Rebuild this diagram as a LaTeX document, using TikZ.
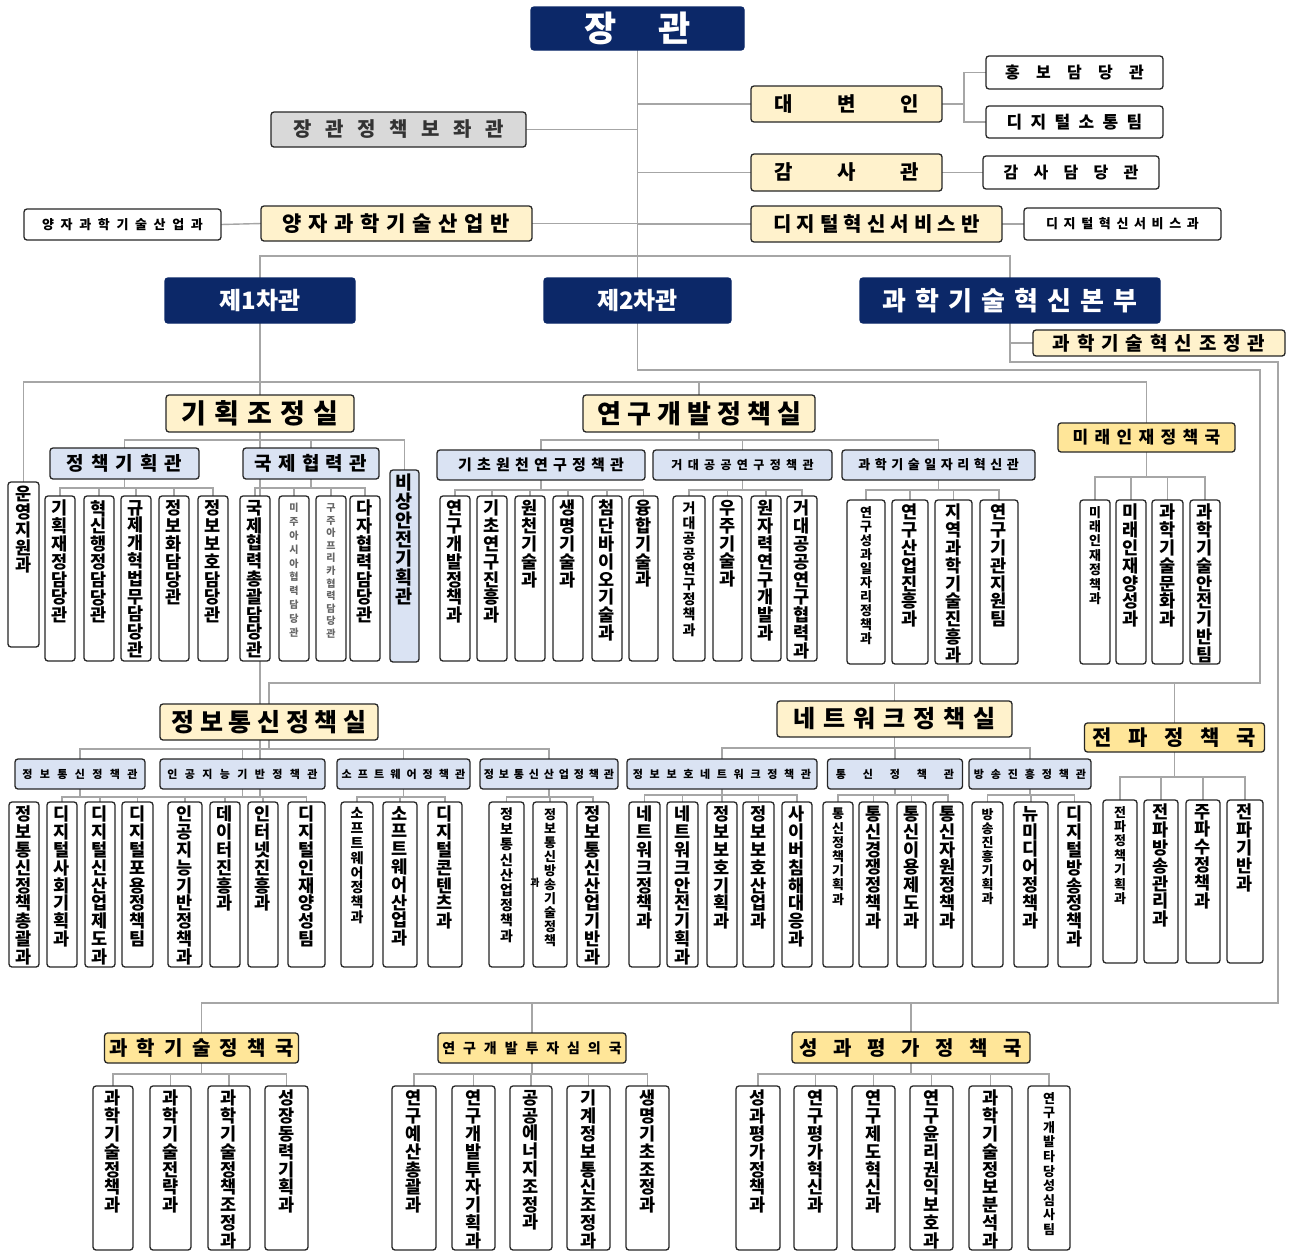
\documentclass[tikz,border=0pt]{standalone}
\usepackage{fontspec}
\setmainfont{Noto Sans CJK KR}
\definecolor{navy}{RGB}{12,40,104}
\definecolor{ylwA}{HTML}{FFF2CC}
\definecolor{ylwB}{HTML}{FFE699}
\definecolor{bluA}{HTML}{DAE3F3}
\definecolor{gryA}{HTML}{D9D9D9}
\definecolor{lineC}{HTML}{A6A6A6}
\definecolor{edgeC}{HTML}{262626}
\pgfdeclarelayer{bg}\pgfsetlayers{bg,main}
\newdimen\spw
\def\spx#1{\ifx\relax#1\else\hbox to \spw{\hss#1\hss}\expandafter\spx\fi}
\def\vsx#1{\ifx\relax#1\else\hbox to 0pt{\hss#1\hss}\expandafter\vsx\fi}
% name, style, x1,y1,x2,y2, fontsize, pitch, text
\newcommand\hbx[9]{%
 \node[#2, minimum width={(#5)-(#3)}, minimum height={(#6)-(#4)}] (#1) at ({((#3)+(#5))/2},{-((#4)+(#6))/2})
 {\fontsize{#7}{#7}\selectfont\spw=#8pt\relax\ifdim\spw=0pt #9\else\spx#9\relax\fi};}
% name, style, x1,x2,y1,y2, fontsize, pitch, text
\newcommand\vbx[9]{%
 \pgfmathsetmacro\vbh{(#6)-(#5)-2}%
 \pgfmathsetmacro\vof{11-0.45*(#7)}%
 \node[#2, minimum width={(#4)-(#3)}, minimum height={(#6)-(#5)}] (#1) at ({((#3)+(#4))/2},{-((#5)+(#6))/2})
 {\vbox to \vbh pt{\fontsize{#7}{#8}\selectfont\baselineskip=#8pt\lineskiplimit=-100pt\lineskip=0pt\relax\vskip\vof pt\vsx#9\relax\vss}};}
\newcommand\vnm[4]{\vbx{#1}{wht}{#2}{#3}{\rowT}{\rowB}{17.5}{17.8}{#4}}
\newcommand\vsm[6]{\vbx{#1}{wht}{#2}{#3}{\rowT}{\rowB}{#4}{#5}{#6}}
\newcommand\tree[3]{\foreach \ch in {#3}{\draw[conn] (#1.south) -- (#1.south |- 0,-#2) -| (\ch.north);}}
\tikzset{
 box/.style={draw=edgeC, line width=1.3pt, rounded corners=3pt, inner sep=0pt, outer sep=0pt, font=\bfseries, text=black},
 wht/.style={box, fill=white},
 ylw/.style={box, fill=ylwA},
 ylw2/.style={box, fill=ylwB},
 blu/.style={box, fill=bluA},
 gry/.style={box, fill=gryA, text=black!80},
 nvy/.style={box, fill=navy, draw=navy, text=white},
 conn/.style={draw=lineC, line width=1.4pt},
}
\begin{document}
\begin{tikzpicture}[x=1pt,y=1pt]
\useasboundingbox (0,0) rectangle (1289,-1251);
\begin{pgfonlayer}{bg}
\fill[white] (0,0) rectangle (1289,-1251);
\end{pgfonlayer}
% ---- top
\hbx{jg}{nvy}{531}{7}{744}{50}{35}{74}{장관}
\hbx{bojwa}{gry}{271}{112}{526}{147}{20}{32}{장관정책보좌관}
\hbx{dbi}{ylw}{751}{86}{942}{122}{20}{63}{대변인}
\hbx{hb}{wht}{986}{56}{1163}{89}{16}{31}{홍보담당관}
\hbx{dst}{wht}{986}{106}{1163}{138}{17}{24}{디지털소통팀}
\hbx{gsg}{ylw}{751}{154}{942}{191}{20}{63}{감사관}
\hbx{gsd}{wht}{983}{156}{1159}{189}{16}{30}{감사담당관}
\hbx{dis}{ylw}{751}{206}{1002}{242}{20}{23.5}{디지털혁신서비스반}
\hbx{disg}{wht}{1024}{208}{1221}{240}{13}{17.6}{디지털혁신서비스과}
\hbx{yjb}{ylw}{261}{206}{532}{241}{21}{26}{양자과학기술산업반}
\hbx{yjg}{wht}{24}{209}{221}{240}{13}{18.6}{양자과학기술산업과}
\hbx{v1}{nvy}{165}{278}{355}{323}{24}{0}{제1차관}
\hbx{v2}{nvy}{544}{278}{731}{323}{24}{0}{제2차관}
\hbx{hq}{nvy}{860}{278}{1160}{323}{26}{33}{과학기술혁신본부}
\hbx{jj}{ylw}{1033}{330}{1285}{356}{19}{24.4}{과학기술혁신조정관}
% ---- row 1 heads
\hbx{gj}{ylw}{166}{395}{354}{432}{27}{33}{기획조정실}
\hbx{rd}{ylw}{583}{395}{815}{432}{26}{30}{연구개발정책실}
\hbx{mr}{ylw2}{1058}{423}{1235}{452}{17}{22}{미래인재정책국}
\hbx{pp}{blu}{50}{448}{199}{479}{19}{24.5}{정책기획관}
\hbx{ic}{blu}{243}{448}{379}{479}{19}{23.7}{국제협력관}
\hbx{bw}{blu}{437}{450}{645}{480}{15}{19}{기초원천연구정책관}
\hbx{gp}{blu}{653}{450}{832}{480}{12}{16.4}{거대공공연구정책관}
\hbx{jr}{blu}{842}{450}{1035}{480}{13}{16.5}{과학기술일자리혁신관}
% ---- row 1 columns
\vbx{uy}{wht}{8}{39}{482}{647}{17.5}{17.8}{운영지원과}
\def\rowT{496}\def\rowB{661}
\vnm{a1}{45}{75}{기획재정담당관}
\vnm{a2}{84}{114}{혁신행정담당관}
\vnm{a3}{121}{151}{규제개혁법무담당관}
\vnm{a4}{159}{189}{정보화담당관}
\vnm{a5}{198}{228}{정보보호담당관}
\vnm{a6}{240}{270}{국제협력총괄담당관}
\vbx{a7}{wht,text=black!60}{279}{309}{\rowT}{\rowB}{10}{13.8}{미주아시아협력담당관}
\vbx{a8}{wht,text=black!60}{316}{346}{\rowT}{\rowB}{10}{12.6}{구주아프리카협력담당관}
\vnm{a9}{350}{380}{다자협력담당관}
\vbx{bs}{blu}{390}{419}{470}{662}{18.5}{19}{비상안전기획관}
\vnm{a10}{440}{470}{연구개발정책과}
\vnm{a11}{477}{507}{기초연구진흥과}
\vnm{a12}{515}{545}{원천기술과}
\vnm{a13}{553}{583}{생명기술과}
\vnm{a14}{592}{622}{첨단바이오기술과}
\vnm{a15}{629}{658}{융합기술과}
\vsm{a16}{673}{705}{14}{15.2}{거대공공연구정책과}
\vnm{a17}{713}{742}{우주기술과}
\vnm{a18}{751}{781}{원자력연구개발과}
\vnm{a19}{787}{817}{거대공공연구협력과}
\def\rowT{500}\def\rowB{664}
\vsm{a20}{847}{885}{13}{14}{연구성과일자리정책과}
\vnm{a21}{892}{928}{연구산업진흥과}
\vnm{a22}{935}{972}{지역과학기술진흥과}
\vnm{a23}{980}{1018}{연구기관지원팀}
\vsm{a24}{1080}{1110}{13}{14.4}{미래인재정책과}
\vnm{a25}{1116}{1146}{미래인재양성과}
\vnm{a26}{1152}{1183}{과학기술문화과}
\vnm{a27}{1190}{1220}{과학기술안전기반팀}
% ---- row 2 heads
\hbx{ict}{ylw}{160}{704}{378}{740}{25}{28.6}{정보통신정책실}
\hbx{nw}{ylw}{777}{701}{1012}{737}{24}{30}{네트워크정책실}
\hbx{jp}{ylw2}{1093}{723}{1256}{752}{21}{36}{전파정책국}
\hbx{ic1}{blu}{15}{759}{145}{789}{11}{17.5}{정보통신정책관}
\hbx{ai}{blu}{160}{759}{325}{789}{11}{17.5}{인공지능기반정책관}
\hbx{sw}{blu}{337}{759}{470}{789}{11}{16.2}{소프트웨어정책관}
\hbx{ii}{blu}{480}{759}{618}{789}{11}{15}{정보통신산업정책관}
\hbx{sn}{blu}{627}{759}{817}{789}{11}{16.8}{정보보호네트워크정책관}
\hbx{tc}{blu}{830}{759}{960}{789}{11}{27}{통신정책관}
\hbx{bc}{blu}{969}{759}{1091}{789}{11}{17}{방송진흥정책관}
% ---- row 2 columns
\def\rowT{802}\def\rowB{967}
\vnm{b1}{9}{39}{정보통신정책총괄과}
\vnm{b2}{47}{77}{디지털사회기획과}
\vnm{b3}{85}{115}{디지털신산업제도과}
\vnm{b4}{122}{153}{디지털포용정책팀}
\vnm{b5}{168}{202}{인공지능기반정책과}
\vnm{b6}{210}{240}{데이터진흥과}
\vnm{b7}{248}{278}{인터넷진흥과}
\vnm{b8}{288}{325}{디지털인재양성팀}
\vsm{b9}{341}{373}{14}{14.8}{소프트웨어정책과}
\vnm{b10}{383}{417}{소프트웨어산업과}
\vnm{b11}{428}{462}{디지털콘텐츠과}
\vsm{b12}{489}{524}{14}{15.2}{정보통신산업정책과}
\vsm{b13}{533}{567}{13}{14}{정보통신방송기술정책}
\node[font=\bfseries\fontsize{10}{10}\selectfont, inner sep=0pt] (b13g) at (535,-883) {과};
\vnm{b14}{577}{609}{정보통신산업기반과}
\vnm{b15}{629}{660}{네트워크정책과}
\vnm{b16}{667}{698}{네트워크안전기획과}
\vnm{b17}{707}{737}{정보보호기획과}
\vnm{b18}{743}{774}{정보보호산업과}
\vnm{b19}{782}{812}{사이버침해대응과}
\vsm{b20}{823}{853}{13}{14.2}{통신정책기획과}
\vnm{b21}{859}{888}{통신경쟁정책과}
\vnm{b22}{897}{926}{통신이용제도과}
\vnm{b23}{933}{963}{통신자원정책과}
\vsm{b24}{972}{1003}{13}{14}{방송진흥기획과}
\vnm{b25}{1014}{1048}{뉴미디어정책과}
\vnm{b26}{1058}{1091}{디지털방송정책과}
\def\rowT{800}\def\rowB{963}
\vsm{b27}{1103}{1137}{13}{14.4}{전파정책기획과}
\vnm{b28}{1144}{1178}{전파방송관리과}
\vnm{b29}{1186}{1220}{주파수정책과}
\vnm{b30}{1227}{1263}{전파기반과}
% ---- row 3
\hbx{kp}{ylw2}{107}{1033}{296}{1063}{20}{27.7}{과학기술정책국}
\hbx{ri}{ylw2}{438}{1033}{626}{1063}{14}{20.8}{연구개발투자심의국}
\hbx{sg}{ylw2}{794}{1032}{1028}{1063}{20}{34}{성과평가정책국}
\def\rowT{1086}\def\rowB{1250}
\vnm{c1}{93}{133}{과학기술정책과}
\vnm{c2}{150}{191}{과학기술전략과}
\vnm{c3}{208}{250}{과학기술정책조정과}
\vnm{c4}{265}{308}{성장동력기획과}
\vnm{c5}{392}{436}{연구예산총괄과}
\vnm{c6}{452}{495}{연구개발투자기획과}
\vnm{c7}{510}{552}{공공에너지조정과}
\vnm{c8}{567}{610}{기계정보통신조정과}
\vnm{c9}{626}{669}{생명기초조정과}
\vnm{c10}{736}{780}{성과평가정책과}
\vnm{c11}{794}{837}{연구평가혁신과}
\vnm{c12}{852}{895}{연구제도혁신과}
\vnm{c13}{910}{953}{연구윤리권익보호과}
\vnm{c14}{969}{1012}{과학기술정보분석과}
\vsm{c15}{1028}{1070}{13}{14.6}{연구개발타당성심사팀}
% ---- connectors
\begin{pgfonlayer}{bg}
\coordinate (e2) at (1260,-683);
\coordinate (e3) at (1278,-1003);
\draw[conn] (jg.south) -- (jg.south |- v2.north);
\draw[conn] (v2.south) -- (v2.south |- 0,-370) -| (e2) -| (ict.north);
\draw[conn] (nw.north) -- (nw.north |- e2);
\draw[conn] (jp.north) -- (jp.north |- e2);
\draw[conn] (bojwa.east) -- (bojwa.east -| jg.south);
\draw[conn] (dbi.west) -- (dbi.west -| jg.south);
\draw[conn] (gsg.west) -- (gsg.west -| jg.south);
\draw[conn] (dis.west) -- (dis.west -| jg.south);
\draw[conn] (yjb.east) -- (yjb.east -| jg.south);
\draw[conn] (yjg.east) -- (yjb.west);
\draw[conn] (dbi.east) -- ++(22,0) |- (hb.west);
\draw[conn] (dbi.east) -- ++(22,0) |- (dst.west);
\draw[conn] (gsg.east) -- (gsd.west);
\draw[conn] (dis.east) -- (disg.west);
\draw[conn] (v1.north) -- (v1.north |- 0,-256) -| (hq.north);
\coordinate (b1) at (v1.south |- 0,-382);
\draw[conn] (v1.south) -- (b1);
\draw[conn] (b1) -| (uy.north);
\draw[conn] (b1) -| (gj.north);
\draw[conn] (b1) -| (rd.north);
\draw[conn] (b1) -| (mr.north);
\draw[conn] (jj.west) -- (jj.west -| hq.south);
\draw[conn] (hq.south) -- (hq.south |- 0,-362) -| (e3) -| (kp.north);
\draw[conn] (ri.north) -- (ri.north |- e3);
\draw[conn] (sg.north) -- (sg.north |- e3);
\tree{gj}{440}{pp,ic,bs}
\tree{pp}{488}{a1,a2,a3,a4,a5}
\tree{ic}{488}{a6,a7,a8,a9}
\tree{rd}{440}{bw,gp,jr}
\tree{bw}{490}{a10,a11,a12,a13,a14,a15}
\tree{gp}{490}{a16,a17,a18,a19}
\tree{jr}{490}{a20,a21,a22,a23}
\tree{mr}{477}{a24,a25,a26,a27}
\tree{ict}{749}{ic1,ai,sw,ii}
\tree{nw}{748}{sn,tc,bc}
\tree{ic1}{797}{b1,b2,b3,b4}
\tree{ai}{797}{b5,b6,b7,b8}
\tree{sw}{797}{b9,b10,b11}
\tree{ii}{797}{b12,b13,b14}
\tree{sn}{795}{b15,b16,b17,b18,b19}
\tree{tc}{795}{b20,b21,b22,b23}
\tree{bc}{795}{b24,b25,b26}
\tree{jp}{777}{b27,b28,b29,b30}
\tree{kp}{1074}{c1,c2,c3,c4}
\tree{ri}{1074}{c5,c6,c7,c8,c9}
\tree{sg}{1074}{c10,c11,c12,c13,c14,c15}
\end{pgfonlayer}
\end{tikzpicture}
\end{document}
